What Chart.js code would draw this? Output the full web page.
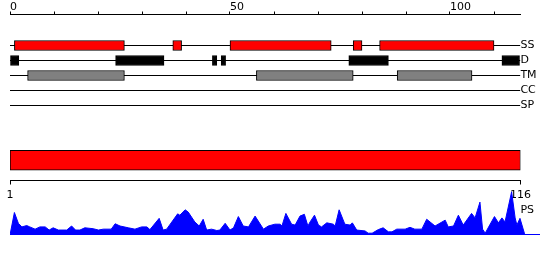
<!DOCTYPE html>
<html>
<head>
<meta charset="utf-8">
<script src="https://cdn.jsdelivr.net/npm/chart.js@4.4.1/dist/chart.umd.min.js"></script>
<style>
  body { margin: 0; background: #fff; }
  #wrap { position: relative; width: 550px; height: 260px; }
  canvas { position: absolute; left: 0; }
</style>
</head>
<body>
<div id="wrap">
  <canvas id="pistas" width="550" height="120" style="top:0px"></canvas>
  <canvas id="barraPS" width="550" height="65" style="top:140px"></canvas>
  <canvas id="perfil" width="550" height="50" style="top:190px"></canvas>
</div>
<script>
// Datos de la secuencia
const longitud = 116;
const trackNames = ['SS', 'D', 'TM', 'CC', 'SP'];
const topTicks = [0, 10, 20, 30, 40, 50, 60, 70, 80, 90, 100, 110];
const topTickLabels = [0, 50, 100];
const bottomTicks = [1, 116];

// Regiones de cada pista [inicio, fin]
const ssRegions = [[1, 26], [37, 39], [50, 73], [78, 80], [84, 110]];
const dRegions = [[0, 2], [24, 35], [46, 47], [48, 49], [77, 86], [111.8, 115.8]];
const tmRegions = [[4, 26], [56, 78], [88, 105]];
const psRange = [1, 116];

// Perfil PS (posición, valor)
const psPos = [0, 1.0, 1.9, 2.7, 3.8, 4.5, 5.7, 6.8, 8.0, 8.9,
  9.8, 11.0, 12.9, 14.0, 14.9, 15.9, 17.0, 18.9, 20.1, 21.2,
  23.0, 23.9, 25.0, 26.9, 28.4, 29.9, 31.1, 31.8, 33.9, 34.8,
  35.6, 38.1, 38.6, 39.8, 40.5, 42.0, 43.0, 43.9, 44.7, 45.8,
  47.0, 47.7, 48.9, 50.0, 50.8, 51.9, 53.0, 54.2, 55.7, 57.6,
  58.7, 60.2, 61.4, 61.8, 62.7, 64.0, 64.8, 65.9, 66.9, 67.7,
  68.2, 69.2, 70.1, 70.8, 72.0, 73.5, 73.9, 74.8, 76.1, 77.3,
  77.8, 78.8, 80.7, 81.4, 82.3, 83.7, 84.8, 86.0, 86.8, 87.9,
  89.8, 90.9, 92.0, 93.6, 94.7, 96.6, 98.9, 99.6, 100.8, 101.9,
  103.0, 104.9, 105.7, 106.8, 107.4, 108.0, 108.9, 110.1, 111.0, 111.8,
  112.5, 114.0, 114.8, 115.2, 115.9, 116.9, 117.1];
const psVal = [0, 0.50, 0.26, 0.18, 0.21, 0.18, 0.13, 0.18, 0.18, 0.11,
  0.16, 0.11, 0.11, 0.20, 0.11, 0.11, 0.16, 0.14, 0.11, 0.13,
  0.13, 0.25, 0.20, 0.16, 0.13, 0.18, 0.18, 0.12, 0.37, 0.11,
  0.13, 0.47, 0.44, 0.56, 0.51, 0.29, 0.20, 0.35, 0.11, 0.13,
  0.10, 0.11, 0.26, 0.11, 0.16, 0.41, 0.20, 0.18, 0.42, 0.13,
  0.20, 0.24, 0.24, 0.20, 0.48, 0.24, 0.22, 0.42, 0.46, 0.20,
  0.29, 0.44, 0.22, 0.18, 0.27, 0.24, 0.20, 0.56, 0.24, 0.22,
  0.27, 0.11, 0.09, 0.04, 0.04, 0.12, 0.16, 0.07, 0.07, 0.13,
  0.13, 0.17, 0.13, 0.13, 0.35, 0.20, 0.33, 0.18, 0.20, 0.44,
  0.22, 0.48, 0.38, 0.73, 0.13, 0.04, 0.20, 0.41, 0.27, 0.38,
  0.29, 0.96, 0.38, 0.22, 0.37, 0.04, 0];
const baselineEnd = 120.45;

Chart.defaults.font.family = '"DejaVu Sans", sans-serif';
Chart.defaults.font.size = 11;
Chart.defaults.color = '#000';

const comunes = {
    responsive: false,
    animation: false,
    devicePixelRatio: 1,
    plugins: { legend: { display: false }, tooltip: { enabled: false } }
};

// Convertir regiones en barras flotantes de una pista
const regionData = (regions, pista) => regions.map(r => ({ x: r, y: pista }));

const barra = (regions, pista, color) => ({
    type: 'bar',
    data: regionData(regions, pista),
    indexAxis: 'y',
    backgroundColor: color,
    borderColor: '#000',
    borderWidth: 1,
    borderSkipped: false,
    barThickness: 10,
    grouped: false,
    order: 1
});

// Gráfico de pistas
const yMin = 1 - 31 / 15;
new Chart(document.getElementById('pistas'), {
    type: 'bar',
    data: {
        datasets: [
            ...trackNames.map((n, i) => ({
                type: 'line',
                data: [{ x: 0, y: i + 1 }, { x: longitud, y: i + 1 }],
                borderColor: '#000',
                borderWidth: 1,
                pointRadius: 0,
                order: 2
            })),
            barra(ssRegions, 1, '#ff0000'),
            barra(dRegions, 2, '#000000'),
            barra(tmRegions, 3, '#808080')
        ]
    },
    options: {
        ...comunes,
        layout: { padding: { left: 10, right: 0, top: 0, bottom: 0.5 } },
        scales: {
            x: {
                type: 'linear',
                position: 'top',
                offset: false,
                min: 0,
                max: longitud,
                afterBuildTicks: ax => { ax.ticks = topTicks.map(v => ({ value: v })); },
                afterFit: ax => { ax.height = 14.5; ax.paddingLeft = 0; ax.paddingRight = 0; },
                grid: { drawOnChartArea: false, offset: false, tickLength: 3, color: '#000' },
                border: { color: '#000' },
                ticks: {
                    align: 'start', padding: -2, autoSkip: false, maxRotation: 0,
                    callback: v => topTickLabels.includes(v) ? String(v) : ''
                }
            },
            y: {
                type: 'linear',
                position: 'right',
                offset: false,
                reverse: true,
                min: yMin,
                max: yMin + 7,
                afterBuildTicks: ax => { ax.ticks = trackNames.map((n, i) => ({ value: i + 1 })); },
                afterFit: ax => { ax.width = 29.6; ax.paddingTop = 0; ax.paddingBottom = 0; },
                grid: { display: false, drawTicks: false, offset: false },
                border: { display: false },
                ticks: { padding: 0, callback: v => trackNames[v - 1] }
            }
        }
    }
});

// Barra PS y eje inferior
new Chart(document.getElementById('barraPS'), {
    type: 'bar',
    data: {
        datasets: [{
            data: [{ x: psRange, y: 1 }],
            indexAxis: 'y',
            backgroundColor: '#ff0000',
            borderColor: '#000',
            borderWidth: 1,
            borderSkipped: false,
            barThickness: 20
        }]
    },
    options: {
        ...comunes,
        layout: { padding: { left: 10, right: 29.5, top: 0, bottom: 0.5 } },
        scales: {
            x: {
                type: 'linear',
                offset: false,
                min: bottomTicks[0],
                max: bottomTicks[1],
                afterBuildTicks: ax => { ax.ticks = bottomTicks.map(v => ({ value: v })); },
                afterFit: ax => { ax.height = 24; },
                grid: { drawOnChartArea: false, offset: false, tickLength: 4, color: '#000' },
                border: { color: '#000' },
                ticks: { padding: 4, autoSkip: false, maxRotation: 0 }
            },
            y: { type: 'linear', offset: false, min: 0, max: 2, display: false }
        }
    }
});

// Etiqueta PS junto al perfil
const etiquetaPS = {
    id: 'etiquetaPS',
    afterDraw(chart) {
        const ctx = chart.ctx;
        const x = chart.scales.x.getPixelForValue(longitud);
        ctx.save();
        ctx.font = '11px "DejaVu Sans"';
        ctx.fillStyle = '#000';
        ctx.textBaseline = 'top';
        ctx.fillText('PS', x, 15);
        ctx.restore();
    }
};

// Perfil PS
new Chart(document.getElementById('perfil'), {
    type: 'line',
    data: {
        datasets: [
            {
                data: psPos.map((p, i) => ({ x: p, y: psVal[i] })),
                fill: 'origin',
                backgroundColor: '#0000ff',
                borderColor: '#0000ff',
                borderWidth: 1,
                pointRadius: 0,
                tension: 0
            },
            {
                data: [{ x: 0, y: 0 }, { x: baselineEnd, y: 0 }],
                borderColor: '#0000ff',
                borderWidth: 2,
                pointRadius: 0
            }
        ]
    },
    options: {
        ...comunes,
        layout: { padding: { left: 10, right: 10, top: 0, bottom: 5 } },
        scales: {
            x: { type: 'linear', min: 0, max: baselineEnd, display: false },
            y: { min: 0, max: 1, display: false }
        }
    },
    plugins: [etiquetaPS]
});
</script>
</body>
</html>
